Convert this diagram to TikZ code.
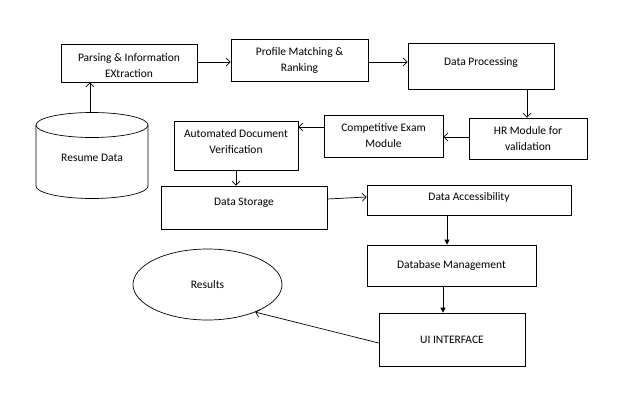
\documentclass[tikz,border=0pt]{standalone}
\usepackage{fontspec}
\setmainfont{Carlito}
\usetikzlibrary{arrows.meta,shapes.geometric}
\begin{document}
\begin{tikzpicture}[x=1pt,y=-1pt,
  every node/.style={font=\fontsize{11.5}{16}\selectfont},
  box/.style={draw, line width=0.7pt, inner sep=0pt, align=center},
  txt/.style={inner sep=0pt, align=center},
  oarr/.style={line width=0.7pt, -{Straight Barb[length=4pt,width=8pt]}},
  farr/.style={line width=0.7pt, -{Triangle[length=5pt,width=5pt]}}
]
\useasboundingbox (0,0) rectangle (628,404);
% cylinder
\draw[line width=0.7pt] (92,125) ellipse [x radius=56, y radius=12.5];
\draw[line width=0.7pt] (36,125) -- (36,186) arc[start angle=180, end angle=0, x radius=56, y radius=12.5] -- (148,125);
\node[txt] (rd) at (92,158) {Resume Data};
\coordinate (rdtop) at (90,112.5);

\node[box, minimum width=136, minimum height=38] (pie) at (129,63) {};
\node[txt] (piet) at (129,66) {Parsing \& Information\\EXtraction};
\node[box, minimum width=137, minimum height=42] (pmr) at (299.5,60) {Profile Matching \&\\Ranking};
\node[box, minimum width=146, minimum height=46] (dp) at (481,66) {};
\node[txt] (dpt) at (481,63) {Data Processing};
\node[box, minimum width=118, minimum height=41] (hr) at (528,138.5) {HR Module for\\validation};
\node[box, minimum width=119, minimum height=42] (ce) at (383.5,136) {Competitive Exam\\Module};
\node[box, minimum width=124, minimum height=49] (adv) at (236,145.5) {};
\node[txt] (advt) at (236,141.5) {Automated Document\\Verification};
\node[box, minimum width=166, minimum height=43] (ds) at (244,207.5) {};
\node[txt] (dst) at (244,203) {Data Storage};
\node[box, minimum width=204, minimum height=30] (da) at (469,200) {};
\node[txt] (dat) at (469,197) {Data Accessibility};
\node[box, minimum width=169, minimum height=41] (dbm) at (451.5,265.5) {Database Management};
\node[box, minimum width=146, minimum height=53] (ui) at (452,339.5) {UI INTERFACE};
\node[box, ellipse, minimum width=149, minimum height=71] (res) at (207.5,284.5) {Results};

\draw[oarr] (rdtop) -- (pie.south -| rdtop);
\draw[oarr] (pie.east |- 0,62) -- (pmr.west |- 0,62);
\draw[oarr] (pmr.east |- 0,62) -- (dp.west |- 0,62);
\draw[oarr] (dp.south -| 527,0) -- (hr.north -| 527,0);
\draw[oarr] (hr.west |- 0,137) -- (ce.east |- 0,137);
\draw[oarr] (ce.west |- 0,127) -- (adv.east |- 0,127);
\draw[oarr] (adv.south) -- (ds.north -| adv.south);
\draw[oarr] (ds.east |- 0,199) -- (da.west |- 0,197);
\draw[farr] (da.south -| 447,0) -- (dbm.north -| 447,0);
\draw[farr] (dbm.south -| 443,0) -- (ui.north -| 443,0);
\draw[oarr] (ui.west |- 0,343) -- (res.-30);
\end{tikzpicture}
\end{document}
